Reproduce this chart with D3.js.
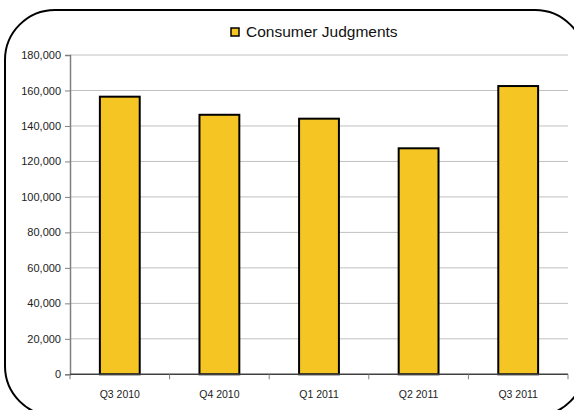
<!DOCTYPE html>
<html>
<head>
<meta charset="utf-8">
<script src="https://cdn.jsdelivr.net/npm/d3@7"></script>
<style>
  body { margin: 0; background: #fff; }
  svg { display: block; font-family: "Liberation Sans", Arial, sans-serif; }
</style>
</head>
<body>
<svg id="graphic"></svg>
<script>
// chart data
const quarters = ["Q3 2010", "Q4 2010", "Q1 2011", "Q2 2011", "Q3 2011"]
const judgments = [156500, 146300, 144100, 127400, 162500]
const yTicks = [0, 20000, 40000, 60000, 80000, 100000, 120000, 140000, 160000, 180000]
const seriesName = "Consumer Judgments"

const w = 574
const h = 410
const plotLeft = 70, plotRight = 568, plotTop = 55, plotBottom = 374.3

const svg = d3.select("#graphic")
    .attr("width", w)
    .attr("height", h)

// rounded frame
svg.append("rect")
    .attr("x", 5).attr("y", 10)
    .attr("width", 580).attr("height", 406)
    .attr("rx", 50).attr("ry", 50)
    .attr("fill", "none")
    .attr("stroke", "#000")
    .attr("stroke-width", 2)

const xScale = d3.scaleBand()
    .domain(quarters)
    .range([plotLeft, plotRight])
    .paddingInner(0.6)
    .paddingOuter(0.3)

const yScale = d3.scaleLinear()
    .domain([0, 180000])
    .range([plotBottom, plotTop])

// gridlines
svg.append("g")
    .selectAll("line")
    .data(yTicks.filter(d => d > 0))
    .enter()
    .append("line")
    .attr("x1", plotLeft).attr("x2", plotRight)
    .attr("y1", d => yScale(d)).attr("y2", d => yScale(d))
    .attr("stroke", "#c0c0c0")
    .attr("stroke-width", 1)

// y axis
const axisLeft = d3.axisLeft(yScale)
    .tickValues(yTicks)
    .tickSize(5)
    .tickPadding(4)
    .tickFormat(d3.format(","))

const yAxis = svg.append("g")
    .attr("transform", `translate(${plotLeft}, 0)`)
    .call(axisLeft)
yAxis.select(".domain").attr("stroke", "#808080").attr("stroke-width", 1.5)
yAxis.selectAll(".tick line").attr("stroke", "#808080")
yAxis.selectAll("text")
    .attr("font-size", 11)
    .attr("fill", "#222")
    .attr("font-family", "Liberation Sans, Arial, sans-serif")

// bars
svg.append("g")
    .selectAll("rect")
    .data(judgments)
    .enter()
    .append("rect")
    .attr("x", (d, i) => xScale(quarters[i]))
    .attr("y", d => yScale(d))
    .attr("width", xScale.bandwidth())
    .attr("height", d => plotBottom - yScale(d))
    .attr("fill", "#f5c623")
    .attr("stroke", "#000")
    .attr("stroke-width", 2)

// x axis with ticks on category boundaries
const bounds = d3.range(quarters.length + 1).map(i => plotLeft + i * (plotRight - plotLeft) / quarters.length)
const xAxis = svg.append("g")
xAxis.append("line")
    .attr("x1", plotLeft).attr("x2", plotRight)
    .attr("y1", plotBottom).attr("y2", plotBottom)
    .attr("stroke", "#404040")
    .attr("stroke-width", 1.5)
xAxis.selectAll(".bt")
    .data(bounds)
    .enter()
    .append("line")
    .attr("x1", d => d).attr("x2", d => d)
    .attr("y1", plotBottom).attr("y2", plotBottom + 5)
    .attr("stroke", "#808080")
xAxis.selectAll("text")
    .data(quarters)
    .enter()
    .append("text")
    .attr("x", d => xScale(d) + xScale.bandwidth() / 2)
    .attr("y", 398)
    .attr("text-anchor", "middle")
    .attr("font-size", 10.5)
    .attr("fill", "#222")
    .text(d => d)

// legend
const legend = svg.append("g")
legend.append("rect")
    .attr("x", 231).attr("y", 28)
    .attr("width", 8).attr("height", 8)
    .attr("fill", "#f5c623")
    .attr("stroke", "#000")
    .attr("stroke-width", 1.5)
legend.append("text")
    .attr("x", 246).attr("y", 37)
    .attr("font-size", 15.5)
    .attr("fill", "#111")
    .text(seriesName)
</script>
</body>
</html>
